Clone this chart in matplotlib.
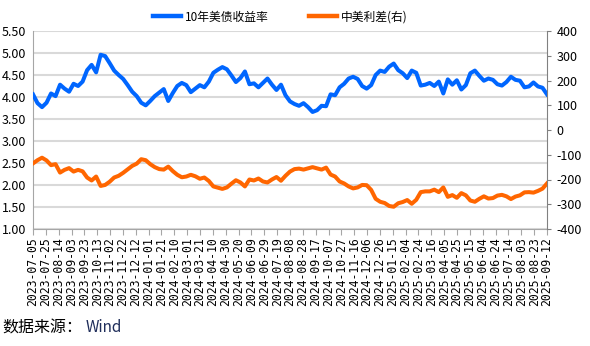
import pandas as pd
import matplotlib
matplotlib.use("Agg")
import matplotlib.pyplot as plt
from matplotlib.lines import Line2D

plt.rcParams["font.family"] = ["Liberation Sans Narrow", "Noto Sans CJK SC", "DejaVu Sans"]

# ============================================================
# Data: weekly observations, 2023-07-05 .. 2025-09-12
# ============================================================
START, END = "2023-07-05", "2025-09-12"

us10y = [
    # 2023
    4.06, 3.86, 3.77, 3.87, 4.08, 4.02, 4.28, 4.19, 4.12, 4.30,
    4.25, 4.35, 4.61, 4.73, 4.56, 4.96, 4.93, 4.77, 4.60, 4.50,
    4.41, 4.27, 4.12, 4.02, 3.87, 3.81,
    # 2024
    3.91, 4.02, 4.10, 4.18, 3.91, 4.09, 4.25, 4.32, 4.27, 4.11,
    4.19, 4.27, 4.22, 4.35, 4.55, 4.62, 4.68, 4.63, 4.49, 4.34,
    4.43, 4.58, 4.29, 4.31, 4.22, 4.32, 4.42, 4.28, 4.16, 4.28,
    4.04, 3.90, 3.84, 3.80, 3.86, 3.77, 3.66, 3.70, 3.80, 3.79,
    4.06, 4.04, 4.22, 4.30, 4.42, 4.46, 4.41, 4.25, 4.19, 4.27,
    4.50, 4.60,
    # 2025
    4.57, 4.69, 4.76, 4.61, 4.54, 4.43, 4.60, 4.55, 4.26, 4.28,
    4.32, 4.25, 4.35, 4.08, 4.40, 4.28, 4.38, 4.17, 4.27, 4.54,
    4.60, 4.48, 4.37, 4.42, 4.39, 4.29, 4.26, 4.34, 4.46, 4.39,
    4.37, 4.22, 4.24, 4.33, 4.24, 4.21, 4.06,
]

cn_us_spread = [
    # 2023
    -135, -122, -112, -123, -142, -138, -172, -161, -154, -168,
    -161, -167, -192, -204, -188, -226, -222, -209, -192, -185,
    -173, -159, -145, -136, -118, -122,
    # 2024
    -138, -150, -158, -160, -148, -166, -181, -191, -188, -181,
    -187, -197, -192, -206, -228, -233, -238, -232, -217, -203,
    -212, -228, -200, -204, -196, -208, -212, -200, -190, -205,
    -185, -168, -158, -156, -160, -155, -150, -155, -160, -152,
    -180, -188, -208, -216, -228, -236, -232, -222, -223, -242,
    -278, -290,
    # 2025
    -295, -307, -310, -296, -291, -283, -298, -282, -251, -248,
    -248, -241, -251, -232, -270, -263, -274, -255, -264, -285,
    -290, -278, -268, -277, -275, -265, -262, -268, -279, -269,
    -264, -252, -251, -253, -246, -237, -216,
]

dates = pd.date_range(START, END, periods=len(us10y))
tick_dates = pd.date_range(START, END, freq="20D")

left_ticks = [1.00, 1.50, 2.00, 2.50, 3.00, 3.50, 4.00, 4.50, 5.00, 5.50]
right_ticks = [-400, -300, -200, -100, 0, 100, 200, 300, 400]

BLUE = "#0066FF"
ORANGE = "#FF6600"
GRID = "#d9d9d9"
AXIS = "#a6a6a6"

# ============================================================
# Figure
# ============================================================
fig = plt.figure(figsize=(5.9, 3.46), dpi=100)
ax = fig.add_axes([33 / 590, 117 / 346, 514 / 590, 198 / 346])
ax2 = ax.twinx()

ax.plot(dates, us10y, color=BLUE, lw=2.9, solid_joinstyle="round", zorder=3)
ax2.plot(dates, cn_us_spread, color=ORANGE, lw=2.9, solid_joinstyle="round", zorder=3)

ax.set_xlim(pd.Timestamp(START), pd.Timestamp(END))
ax.set_ylim(1.0, 5.5)
ax2.set_ylim(-400, 400)

ax.set_yticks(left_ticks)
ax.set_yticklabels([f"{v:.2f}" for v in left_ticks])
ax2.set_yticks(right_ticks)
ax2.set_yticklabels([str(v) for v in right_ticks])

ax.set_xticks(tick_dates)
ax.set_xticklabels([d.strftime("%Y-%m-%d") for d in tick_dates],
                   rotation=90, family="DejaVu Sans Mono", fontsize=8.3)

ax.grid(axis="y", color=GRID, lw=1.5)
ax.set_axisbelow(True)

for a in (ax, ax2):
    a.spines["top"].set_visible(False)
ax.spines["right"].set_visible(False)
ax.spines["left"].set_color(AXIS)
ax.spines["bottom"].set_color(AXIS)
ax2.spines["left"].set_visible(False)
ax2.spines["bottom"].set_visible(False)
ax2.spines["right"].set_color("#808080")

ax.tick_params(axis="y", length=0, labelsize=9, pad=5)
ax.tick_params(axis="x", length=4, color=AXIS, pad=2)
ax2.tick_params(axis="y", length=3, color="#808080", labelsize=9, pad=4)

# ============================================================
# Legend and source note
# ============================================================
handles = [
    Line2D([], [], color=BLUE, lw=3.2),
    Line2D([], [], color=ORANGE, lw=3.2),
]
fig.legend(handles, ["10年美债收益率", "中美利差(右)"],
           loc="center", bbox_to_anchor=(280 / 590, 1 - 17 / 346), ncol=2,
           frameon=False, handlelength=2.4, handletextpad=0.3,
           columnspacing=3.4, prop={"family": ["Noto Sans CJK SC"], "size": 8.5})

fig.text(2 / 590, 1 - 328 / 346, "数据来源：", family=["Noto Sans CJK SC"],
         fontsize=11.5, va="center", ha="left")
fig.text(86 / 590, 1 - 328 / 346, "Wind", family=["Noto Sans CJK SC"],
         fontsize=11, va="center", ha="left", color="#1f2d5a")

fig.savefig("out.png", dpi=100)
